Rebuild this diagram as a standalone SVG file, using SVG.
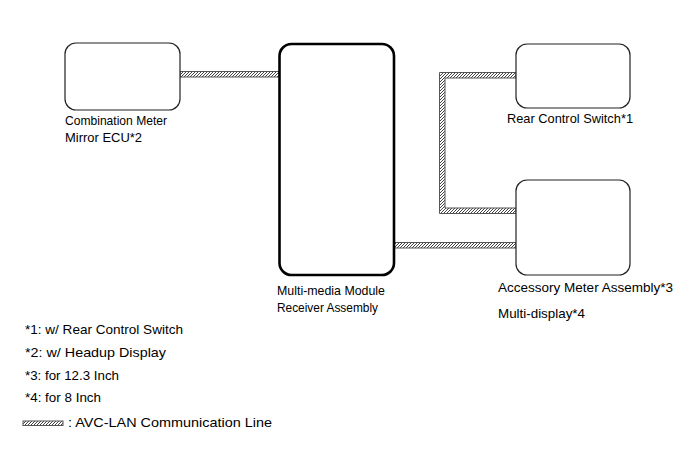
<svg xmlns="http://www.w3.org/2000/svg" width="689" height="465" viewBox="0 0 689 465">
<defs>
<pattern id="hatch" patternUnits="userSpaceOnUse" width="3" height="3">
<rect width="3" height="3" fill="#fff"/>
<path d="M-1,1 L1,-1 M0,3 L3,0 M2,4 L4,2" stroke="#444" stroke-width="1"/>
</pattern>
</defs>
<style>
.box{fill:#fff;stroke:#222;stroke-width:1.2}
.main{fill:#fff;stroke:#000;stroke-width:2.6}
.lan{fill:url(#hatch);stroke:#555;stroke-width:1}
text{font-family:"Liberation Sans",Arial,sans-serif;font-size:12.6px;fill:#000}
</style>
<rect width="689" height="465" fill="#fff"/>
<g id="connectors">
<polygon class="lan" points="180,71.5 279,71.5 279,77 180,77"/>
<polygon class="lan" points="516,72.5 439.5,72.5 439.5,213.5 516,213.5 516,208 445,208 445,78 516,78"/>
<polygon class="lan" points="394,242.5 516,242.5 516,248 394,248"/>
</g>
<g id="combination-meter">
<rect class="box" x="65" y="43" width="115" height="67" rx="11"/>
<text x="65" y="125" textLength="102" lengthAdjust="spacingAndGlyphs">Combination Meter</text>
<text x="65" y="142" textLength="77" lengthAdjust="spacingAndGlyphs">Mirror ECU*2</text>
</g>
<g id="multimedia-module">
<rect class="main" x="279.5" y="44" width="114.5" height="231" rx="12"/>
<text x="277" y="295" textLength="108" lengthAdjust="spacingAndGlyphs">Multi-media Module</text>
<text x="277" y="312" textLength="101" lengthAdjust="spacingAndGlyphs">Receiver Assembly</text>
</g>
<g id="rear-control-switch">
<rect class="box" x="516" y="44" width="114" height="64" rx="11"/>
<text x="507" y="123" textLength="126" lengthAdjust="spacingAndGlyphs">Rear Control Switch*1</text>
</g>
<g id="accessory-meter">
<rect class="box" x="516" y="180" width="114" height="95" rx="11"/>
<text x="498" y="292" textLength="175" lengthAdjust="spacingAndGlyphs">Accessory Meter Assembly*3</text>
<text x="498" y="318" textLength="87" lengthAdjust="spacingAndGlyphs">Multi-display*4</text>
</g>
<g id="legend">
<text x="25" y="334" textLength="158" lengthAdjust="spacingAndGlyphs">*1: w/ Rear Control Switch</text>
<text x="25" y="357" textLength="141" lengthAdjust="spacingAndGlyphs">*2: w/ Headup Display</text>
<text x="25" y="380" textLength="94" lengthAdjust="spacingAndGlyphs">*3: for 12.3 Inch</text>
<text x="25" y="402" textLength="76" lengthAdjust="spacingAndGlyphs">*4: for 8 Inch</text>
<rect class="lan" x="23" y="421" width="40" height="4.5"/>
<text x="68" y="427" textLength="204" lengthAdjust="spacingAndGlyphs">: AVC-LAN Communication Line</text>
</g>
</svg>
